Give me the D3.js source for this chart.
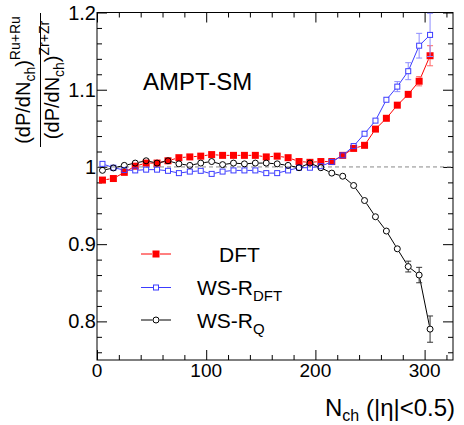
<!DOCTYPE html>
<html>
<head>
<meta charset="utf-8">
<script src="https://cdn.jsdelivr.net/npm/d3@7"></script>
<style>
  html, body { margin: 0; padding: 0; background: #fff; }
  svg text { font-family: "Liberation Sans", Arial, Helvetica, sans-serif; fill: #000; }
  .axis path { display: none; }
  .axis line { stroke: #000; stroke-width: 1; }
</style>
</head>
<body>
<div id="chart"></div>
<script>
// N_ch bin centres
var nch = [5, 15, 25, 35, 45, 55, 65, 75, 85, 95, 105, 115, 125, 135, 145, 155,
  165, 175, 185, 195, 205, 215, 225, 235, 245, 255, 265, 275, 285, 295, 305];

// ratios
var dft = [0.983, 0.985, 0.993, 1.001, 1.005, 1.005, 1.008, 1.012, 1.013, 1.014, 1.016,
  1.015, 1.015, 1.015, 1.015, 1.013, 1.014, 1.012, 1.007, 1.006, 1.007, 1.007, 1.015,
  1.024, 1.028, 1.049, 1.063, 1.080, 1.094, 1.111, 1.144];
var dftErr = [0.002, 0.002, 0.002, 0.002, 0.002, 0.002, 0.002, 0.002, 0.002, 0.002, 0.002,
  0.002, 0.002, 0.002, 0.002, 0.002, 0.002, 0.002, 0.002, 0.002, 0.002, 0.002, 0.002,
  0.002, 0.002, 0.003, 0.003, 0.004, 0.004, 0.006, 0.013];

var wsDft = [1.004, 0.999, 0.996, 0.9955, 0.9965, 0.9965, 0.995, 0.992, 0.994, 0.995, 0.991,
  0.994, 0.9955, 0.9955, 0.9955, 0.992, 0.992, 0.9955, 0.999, 0.999, 1.001, 1.0065, 1.015,
  1.027, 1.043, 1.060, 1.087, 1.104, 1.124, 1.157, 1.171];
var wsDftErr = [0.002, 0.002, 0.002, 0.002, 0.002, 0.002, 0.002, 0.002, 0.002, 0.002, 0.002,
  0.002, 0.002, 0.002, 0.002, 0.002, 0.002, 0.002, 0.002, 0.002, 0.002, 0.002, 0.002,
  0.002, 0.002, 0.003, 0.004, 0.0065, 0.011, 0.016, 0.028];

var wsQ = [0.9956, 0.9987, 1.002, 1.005, 1.008, 1.005, 1.008, 1.004, 1.002, 1.005, 1.007,
  1.003, 1.005, 1.004, 1.005, 1.005, 1.004, 1.002, 0.999, 1.005, 0.999, 0.992, 0.988,
  0.976, 0.9565, 0.9355, 0.917, 0.894, 0.871, 0.860, 0.790];
var wsQErr = [0.002, 0.002, 0.002, 0.002, 0.002, 0.002, 0.002, 0.002, 0.002, 0.002, 0.002,
  0.002, 0.002, 0.002, 0.002, 0.002, 0.002, 0.002, 0.002, 0.002, 0.002, 0.002, 0.002,
  0.002, 0.002, 0.003, 0.003, 0.005, 0.007, 0.010, 0.017];

var xTicks = [0, 100, 200, 300];
var xTickLabels = ["0", "100", "200", "300"];
var yTicks = [0.8, 0.9, 1, 1.1, 1.2];
var yTickLabels = ["0.8", "0.9", "1", "1.1", "1.2"];

var W = 464, H = 425;
var margins = { top: 12.5, right: 11, bottom: 65, left: 97 };
var chartWidth = W - margins.left - margins.right;
var chartHeight = H - margins.top - margins.bottom;

var svg = d3.select("#chart").append("svg")
  .attr("width", W)
  .attr("height", H);

var chart = svg.append("g")
  .attr("transform", `translate(${margins.left},${margins.top})`);

var xScale = d3.scaleLinear().domain([0, 326]).range([0, chartWidth]);
var yScale = d3.scaleLinear().domain([0.75, 1.2]).range([chartHeight, 0]);

var xMinor = d3.range(20, 326, 20).filter(d => xTicks.indexOf(d) < 0);
var yMinor = d3.range(0.76, 1.2, 0.02).filter(d => yTicks.every(t => Math.abs(t - d) > 1e-6));

// ticks point inward on all four sides
var addAxis = function(axis, cls, tx, ty) {
  chart.append("g")
    .attr("class", "axis " + cls)
    .attr("transform", `translate(${tx},${ty})`)
    .call(axis);
};

addAxis(d3.axisBottom(xScale).tickValues(xTicks).tickSize(-10).tickFormat(""), "xb", 0, chartHeight);
addAxis(d3.axisBottom(xScale).tickValues(xMinor).tickSize(-5).tickFormat(""), "xb", 0, chartHeight);
addAxis(d3.axisTop(xScale).tickValues(xTicks).tickSize(-10).tickFormat(""), "xt", 0, 0);
addAxis(d3.axisTop(xScale).tickValues(xMinor).tickSize(-5).tickFormat(""), "xt", 0, 0);
addAxis(d3.axisLeft(yScale).tickValues(yTicks).tickSize(-10).tickFormat(""), "yl", 0, 0);
addAxis(d3.axisLeft(yScale).tickValues(yMinor).tickSize(-5).tickFormat(""), "yl", 0, 0);
addAxis(d3.axisRight(yScale).tickValues(yTicks).tickSize(-10).tickFormat(""), "yr", chartWidth, 0);
addAxis(d3.axisRight(yScale).tickValues(yMinor).tickSize(-5).tickFormat(""), "yr", chartWidth, 0);

// tick labels
chart.append("g").selectAll("text")
  .data(xTicks)
  .enter().append("text")
  .attr("x", d => xScale(d))
  .attr("y", chartHeight + 17)
  .attr("text-anchor", "middle")
  .style("font-size", "19px")
  .text((d, i) => xTickLabels[i]);

chart.append("g").selectAll("text")
  .data(yTicks)
  .enter().append("text")
  .attr("x", -1)
  .attr("y", d => yScale(d) + 7)
  .attr("text-anchor", "end")
  .style("font-size", "20px")
  .text((d, i) => yTickLabels[i]);

// frame
chart.append("rect")
  .attr("width", chartWidth)
  .attr("height", chartHeight)
  .attr("fill", "none")
  .attr("stroke", "#000")
  .attr("stroke-width", 1);

// reference line at 1
chart.append("line")
  .attr("x1", 0).attr("x2", chartWidth)
  .attr("y1", yScale(1)).attr("y2", yScale(1))
  .attr("stroke", "#888")
  .attr("stroke-width", 1)
  .attr("stroke-dasharray", "4,3");

var series = [
  { name: "DFT", values: dft, errs: dftErr, color: "#ff0000", errColor: "#ff6666", marker: "fsquare", half: 3.5 },
  { name: "WS-R_DFT", values: wsDft, errs: wsDftErr, color: "#3c3cff", errColor: "#8c8cff", marker: "osquare", half: 2.5 },
  { name: "WS-R_Q", values: wsQ, errs: wsQErr, color: "#000", errColor: "#333", marker: "circle", half: 3 }
];

var plotArea = chart.append("g");

plotArea.append("clipPath").attr("id", "clip")
  .append("rect").attr("width", chartWidth).attr("height", chartHeight);

var line = d3.line()
  .x(d => xScale(d.x))
  .y(d => yScale(d.y));

var drawMarker = function(g, s, cx, cy, half) {
  if (s.marker === "fsquare") {
    g.append("rect")
      .attr("x", cx - half).attr("y", cy - half)
      .attr("width", 2 * half).attr("height", 2 * half)
      .attr("fill", s.color);
  } else if (s.marker === "osquare") {
    g.append("rect")
      .attr("x", cx - half).attr("y", cy - half)
      .attr("width", 2 * half).attr("height", 2 * half)
      .attr("fill", "none").attr("stroke", s.color).attr("stroke-width", 1);
  } else {
    g.append("circle")
      .attr("cx", cx).attr("cy", cy).attr("r", half)
      .attr("fill", "none").attr("stroke", s.color).attr("stroke-width", 1);
  }
};

series.forEach(function(s) {
  var pts = nch.map((n, i) => ({ x: n, y: s.values[i], e: s.errs[i] }));
  var g = plotArea.append("g").attr("clip-path", "url(#clip)");

  // connecting line, broken at each marker
  pts.forEach(function(p, i) {
    if (i === 0) return;
    var a = pts[i - 1];
    var x0 = xScale(a.x), y0 = yScale(a.y), x1 = xScale(p.x), y1 = yScale(p.y);
    var len = Math.hypot(x1 - x0, y1 - y0);
    var gap = s.half + 0.5;
    if (len <= 2 * gap) return;
    var ux = (x1 - x0) / len, uy = (y1 - y0) / len;
    g.append("line")
      .attr("x1", x0 + ux * gap).attr("y1", y0 + uy * gap)
      .attr("x2", x1 - ux * gap).attr("y2", y1 - uy * gap)
      .attr("stroke", s.color).attr("stroke-width", 1);
  });

  // error bars outside the marker
  pts.forEach(function(p) {
    var cx = xScale(p.x), cy = yScale(p.y);
    var top = yScale(p.y + p.e), bot = yScale(p.y - p.e);
    if (cy - top > s.half + 1) {
      g.append("line").attr("x1", cx).attr("x2", cx)
        .attr("y1", cy - s.half).attr("y2", top)
        .attr("stroke", s.errColor).attr("stroke-width", 1);
      g.append("line").attr("x1", cx - 3).attr("x2", cx + 3)
        .attr("y1", top).attr("y2", top)
        .attr("stroke", s.errColor).attr("stroke-width", 1);
      g.append("line").attr("x1", cx).attr("x2", cx)
        .attr("y1", cy + s.half).attr("y2", bot)
        .attr("stroke", s.errColor).attr("stroke-width", 1);
      g.append("line").attr("x1", cx - 3).attr("x2", cx + 3)
        .attr("y1", bot).attr("y2", bot)
        .attr("stroke", s.errColor).attr("stroke-width", 1);
    }
  });

  pts.forEach(function(p) {
    drawMarker(g, s, xScale(p.x), yScale(p.y), s.half);
  });
});

// label
chart.append("text")
  .attr("x", 143 - margins.left)
  .attr("y", 90 - margins.top)
  .style("font-size", "24px")
  .text("AMPT-SM");

// legend
var legendRows = [
  { s: series[0], y: 254, x: 219, main: "DFT", sub: "" },
  { s: series[1], y: 287.5, x: 197, main: "WS-R", sub: "DFT" },
  { s: series[2], y: 320, x: 197, main: "WS-R", sub: "Q" }
];

var legend = svg.append("g").attr("class", "legend");
legendRows.forEach(function(r) {
  var half = r.s.marker === "fsquare" ? 3.5 : (r.s.marker === "osquare" ? 2.5 : 3);
  legend.append("line")
    .attr("x1", 141).attr("x2", 156 - half - 0.5)
    .attr("y1", r.y).attr("y2", r.y)
    .attr("stroke", r.s.color).attr("stroke-width", 1);
  legend.append("line")
    .attr("x1", 156 + half + 0.5).attr("x2", 171)
    .attr("y1", r.y).attr("y2", r.y)
    .attr("stroke", r.s.color).attr("stroke-width", 1);
  drawMarker(legend, r.s, 156, r.y, half);

  var t = legend.append("text")
    .attr("x", r.x)
    .attr("y", r.y + 7.5)
    .style("font-size", "21px");
  t.append("tspan").text(r.main);
  if (r.sub) {
    t.append("tspan")
      .attr("dy", 6)
      .style("font-size", "15px")
      .text(r.sub);
  }
});

// x title
var xt = svg.append("text")
  .attr("x", 325)
  .attr("y", 416)
  .style("font-size", "24px");
xt.append("tspan").text("N");
xt.append("tspan").attr("dy", 5).style("font-size", "16px").text("ch");
xt.append("tspan").attr("dy", -5).text(" (|\u03b7|<0.5)");

// y title as a fraction
var yt = svg.append("g").attr("transform", "translate(0,80) rotate(-90)");

var num = yt.append("text")
  .attr("x", 0).attr("y", 30)
  .attr("text-anchor", "middle")
  .style("font-size", "20px");
num.append("tspan").text("(dP/dN");
num.append("tspan").attr("dy", 5).style("font-size", "14px").text("ch");
num.append("tspan").attr("dy", -5).text(")");
num.append("tspan").attr("dy", -10).style("font-size", "14px").text("Ru+Ru");

yt.append("line")
  .attr("x1", -67).attr("x2", 67)
  .attr("y1", 40.5).attr("y2", 40.5)
  .attr("stroke", "#000").attr("stroke-width", 1);

var den = yt.append("text")
  .attr("x", 0).attr("y", 59)
  .attr("text-anchor", "middle")
  .style("font-size", "20px");
den.append("tspan").text("(dP/dN");
den.append("tspan").attr("dy", 5).style("font-size", "14px").text("ch");
den.append("tspan").attr("dy", -5).text(")");
den.append("tspan").attr("dy", -10).style("font-size", "14px").text("Zr+Zr");
</script>
</body>
</html>
